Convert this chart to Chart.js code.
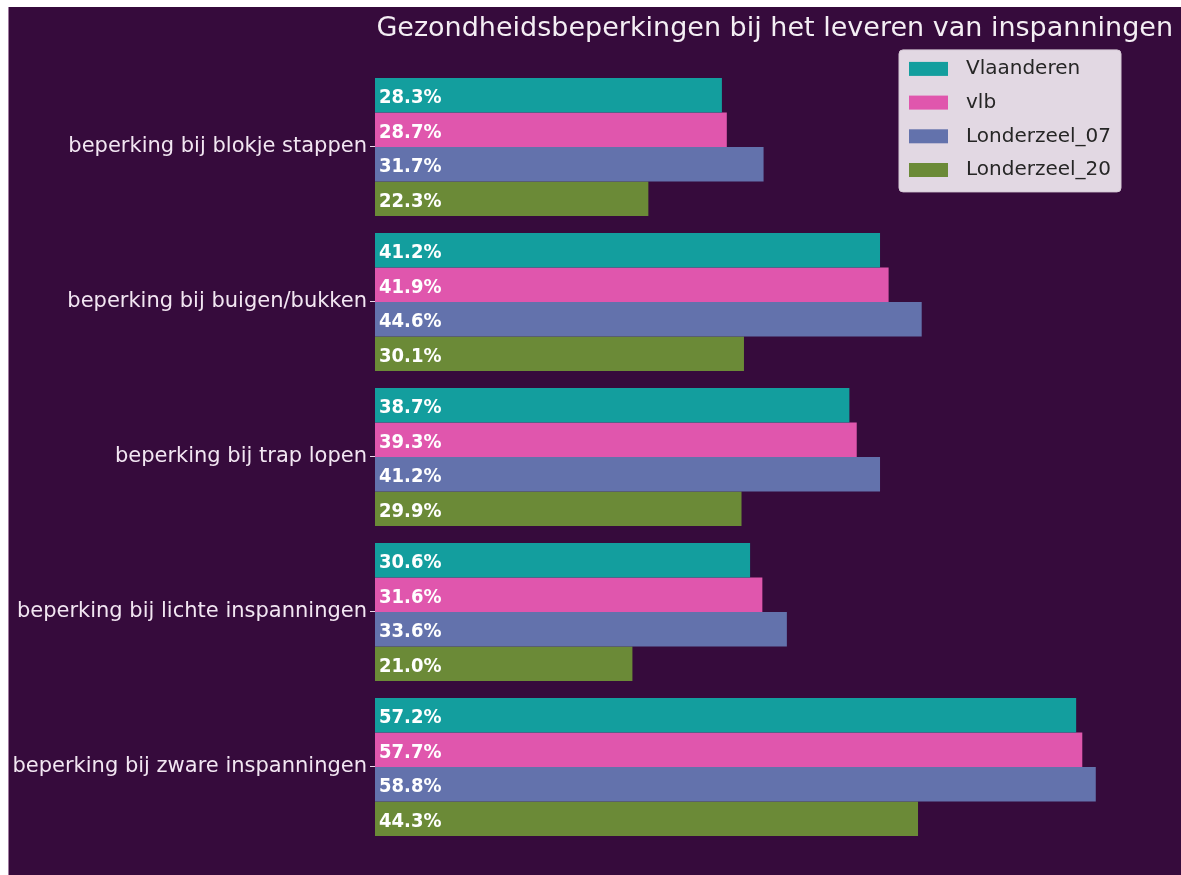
<!DOCTYPE html>
<html>
<head>
<meta charset="utf-8">
<script src="https://cdn.jsdelivr.net/npm/chart.js@4"></script>
<style>
  html, body { margin: 0; padding: 0; background: #ffffff; }
  #wrap {
    position: absolute; left: 8px; top: 7px;
    width: 1173px; height: 868px;
    background: #360b3c;
    border-left: 1px solid #a07aa0;
    box-sizing: border-box;
  }
  canvas { display: block; }
</style>
</head>
<body>
<div id="wrap"><canvas id="chart" width="1172" height="868"></canvas></div>
<script>
// categorieën (y-as) en reeksen
const categories = [
  'beperking bij blokje stappen',
  'beperking bij buigen/bukken',
  'beperking bij trap lopen',
  'beperking bij lichte inspanningen',
  'beperking bij zware inspanningen'
];
const seriesNames = ['Vlaanderen', 'vlb', 'Londerzeel_07', 'Londerzeel_20'];
const vlaanderen   = [28.3, 41.2, 38.7, 30.6, 57.2];
const vlb          = [28.7, 41.9, 39.3, 31.6, 57.7];
const londerzeel07 = [31.7, 44.6, 41.2, 33.6, 58.8];
const londerzeel20 = [22.3, 30.1, 29.9, 21.0, 44.3];
const seriesColors = ['#139e9e', '#e056ad', '#6372ac', '#6b8a37'];

const chartTitle = 'Gezondheidsbeperkingen bij het leveren van inspanningen';

// percentages in de balken schrijven
const barLabels = {
  id: 'barLabels',
  afterDatasetsDraw(chart) {
    const ctx = chart.ctx;
    ctx.save();
    ctx.font = 'bold 20px "DejaVu Sans Condensed", "DejaVu Sans", sans-serif';
    ctx.fillStyle = '#ffffff';
    ctx.textAlign = 'left';
    ctx.textBaseline = 'middle';
    chart.data.datasets.forEach((ds, i) => {
      const meta = chart.getDatasetMeta(i);
      meta.data.forEach((bar, j) => {
        ctx.fillText(ds.data[j].toFixed(1) + '%', bar.base + 4, bar.y + 3);
      });
    });
    ctx.restore();
  }
};

// legende binnen de grafiek, rechtsboven
const innerLegend = {
  id: 'innerLegend',
  afterDraw(chart) {
    const ctx = chart.ctx;
    const area = chart.chartArea;
    const w = 222, h = 142;
    const x = area.right - 52 - w;
    const y = area.top - 19.5;
    ctx.save();
    ctx.fillStyle = 'rgba(236, 228, 236, 0.95)';
    ctx.strokeStyle = '#d6cad6';
    ctx.lineWidth = 1;
    ctx.beginPath();
    ctx.roundRect(x, y, w, h, 4);
    ctx.fill();
    ctx.stroke();
    ctx.font = '20px "DejaVu Sans", sans-serif';
    ctx.textBaseline = 'middle';
    chart.data.datasets.forEach((ds, i) => {
      const cy = y + 19 + i * 33.7;
      ctx.fillStyle = ds.backgroundColor;
      ctx.fillRect(x + 10, cy - 7, 39, 14);
      ctx.fillStyle = '#262626';
      ctx.fillText(ds.label, x + 67, cy);
    });
    ctx.restore();
  }
};

const seriesData = [vlaanderen, vlb, londerzeel07, londerzeel20];

new Chart(document.getElementById('chart'), {
  type: 'bar',
  data: {
    labels: categories,
    datasets: seriesNames.map((name, i) => ({
      label: name,
      data: seriesData[i],
      backgroundColor: seriesColors[i],
      borderWidth: 0,
      categoryPercentage: 0.89,
      barPercentage: 1.0
    }))
  },
  options: {
    indexAxis: 'y',
    responsive: false,
    animation: false,
    layout: { padding: { top: 0, right: 8, bottom: 30.5, left: 0 } },
    scales: {
      x: { display: false, min: 0, max: 65.1 },
      y: {
        grid: {
          display: true,
          drawOnChartArea: false,
          drawTicks: true,
          offset: false,
          tickLength: 5,
          tickColor: '#e8d8e8',
          lineWidth: 1
        },
        border: { display: false },
        ticks: {
          color: '#f2e6f2',
          padding: 3,
          font: { family: '"DejaVu Sans", sans-serif', size: 21 }
        },
        afterFit(scale) { scale.width = 366; }
      }
    },
    plugins: {
      legend: { display: false },
      tooltip: { enabled: false },
      title: {
        display: true,
        text: chartTitle,
        align: 'end',
        color: '#f4eef4',
        font: { family: '"DejaVu Sans", sans-serif', size: 27, weight: 'normal', lineHeight: 1.2 },
        padding: { top: 6, bottom: 24 }
      }
    }
  },
  plugins: [barLabels, innerLegend]
});
</script>
</body>
</html>
